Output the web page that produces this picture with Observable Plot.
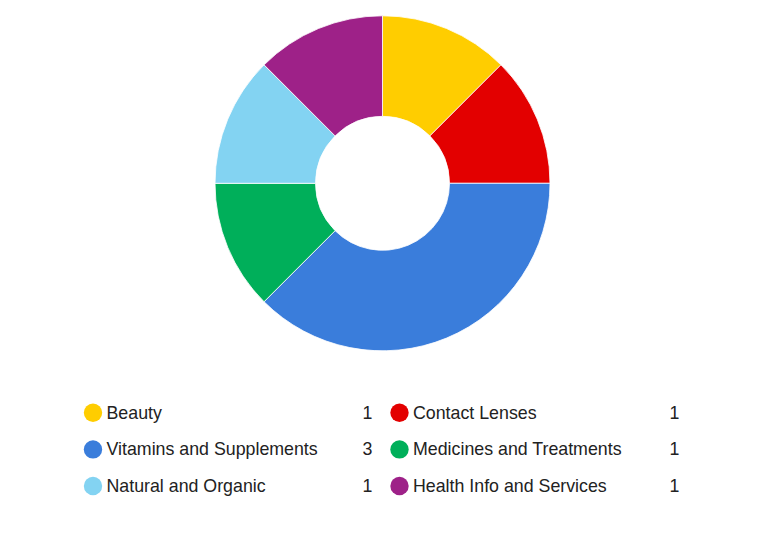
<!DOCTYPE html>
<html>
<head>
<meta charset="utf-8">
<script src="https://cdn.jsdelivr.net/npm/d3@7"></script>
<script src="https://cdn.jsdelivr.net/npm/@observablehq/plot@0.6"></script>
<style>
  html, body { margin: 0; padding: 0; background: #fff; }
  #chart { width: 764px; height: 546px; }
</style>
</head>
<body>
<div id="chart"></div>
<script>
const categories = ["Beauty", "Contact Lenses", "Vitamins and Supplements", "Medicines and Treatments", "Natural and Organic", "Health Info and Services"];
const counts = [1, 1, 3, 1, 1, 1];
const colors = ["#ffcd00", "#e30000", "#3a7ddb", "#00af5a", "#83d3f2", "#9e2188"];

const table = categories.map((category, i) => ({category, count: counts[i], i}));

const W = 764, H = 546;
const CX = 382.5, CY = 183.3, R_OUT = 167.5, R_IN = 67;
const LEG_X0 = 92.5, LEG_DX = 306.5, LEG_Y0 = 412.3, LEG_DY = 36.6;

function donut(index, scales) {
  const cx = scales.x(CX), cy = scales.y(CY);
  const ro = scales.x(CX + R_OUT) - cx;
  const ri = scales.x(CX + R_IN) - cx;
  const arcs = d3.pie().sort(null).value(d => d.count)(table);
  const arc = d3.arc().innerRadius(ri).outerRadius(ro);
  const colorOf = d => scales.color ? scales.color(d.data.category) : colors[d.data.i];
  const g = d3.create("svg:g").attr("transform", `translate(${cx},${cy})`);
  g.selectAll("path").data(arcs).join("path")
    .attr("d", arc)
    .attr("fill", colorOf)
    .attr("stroke", "#ffffff")
    .attr("stroke-opacity", 0.8)
    .attr("stroke-width", 1);
  return g.node();
}

const col = d => d.i % 2;
const row = d => Math.floor(d.i / 2);

const chart = Plot.plot({
  width: W,
  height: H,
  margin: 0,
  x: {domain: [0, W], range: [0, W], axis: null},
  y: {domain: [0, H], range: [0, H], axis: null},
  color: {domain: categories, range: colors},
  style: {fontFamily: "'Liberation Sans', Arial, Helvetica, sans-serif", background: "#fff"},
  marks: [
    donut,
    Plot.dot(table, {
      x: d => LEG_X0 + col(d) * LEG_DX,
      y: d => LEG_Y0 + row(d) * LEG_DY,
      r: 9.2,
      fill: "category",
      stroke: null
    }),
    Plot.text(table, {
      x: d => LEG_X0 + 13.5 + col(d) * LEG_DX,
      y: d => LEG_Y0 + row(d) * LEG_DY,
      text: "category",
      textAnchor: "start",
      fontSize: 17.8,
      fill: "#222"
    }),
    Plot.text(table, {
      x: d => 372 + col(d) * 307,
      y: d => LEG_Y0 + row(d) * LEG_DY,
      text: d => String(d.count),
      textAnchor: "end",
      fontSize: 17.8,
      fill: "#222"
    })
  ]
});
document.getElementById("chart").appendChild(chart);
</script>
</body>
</html>
